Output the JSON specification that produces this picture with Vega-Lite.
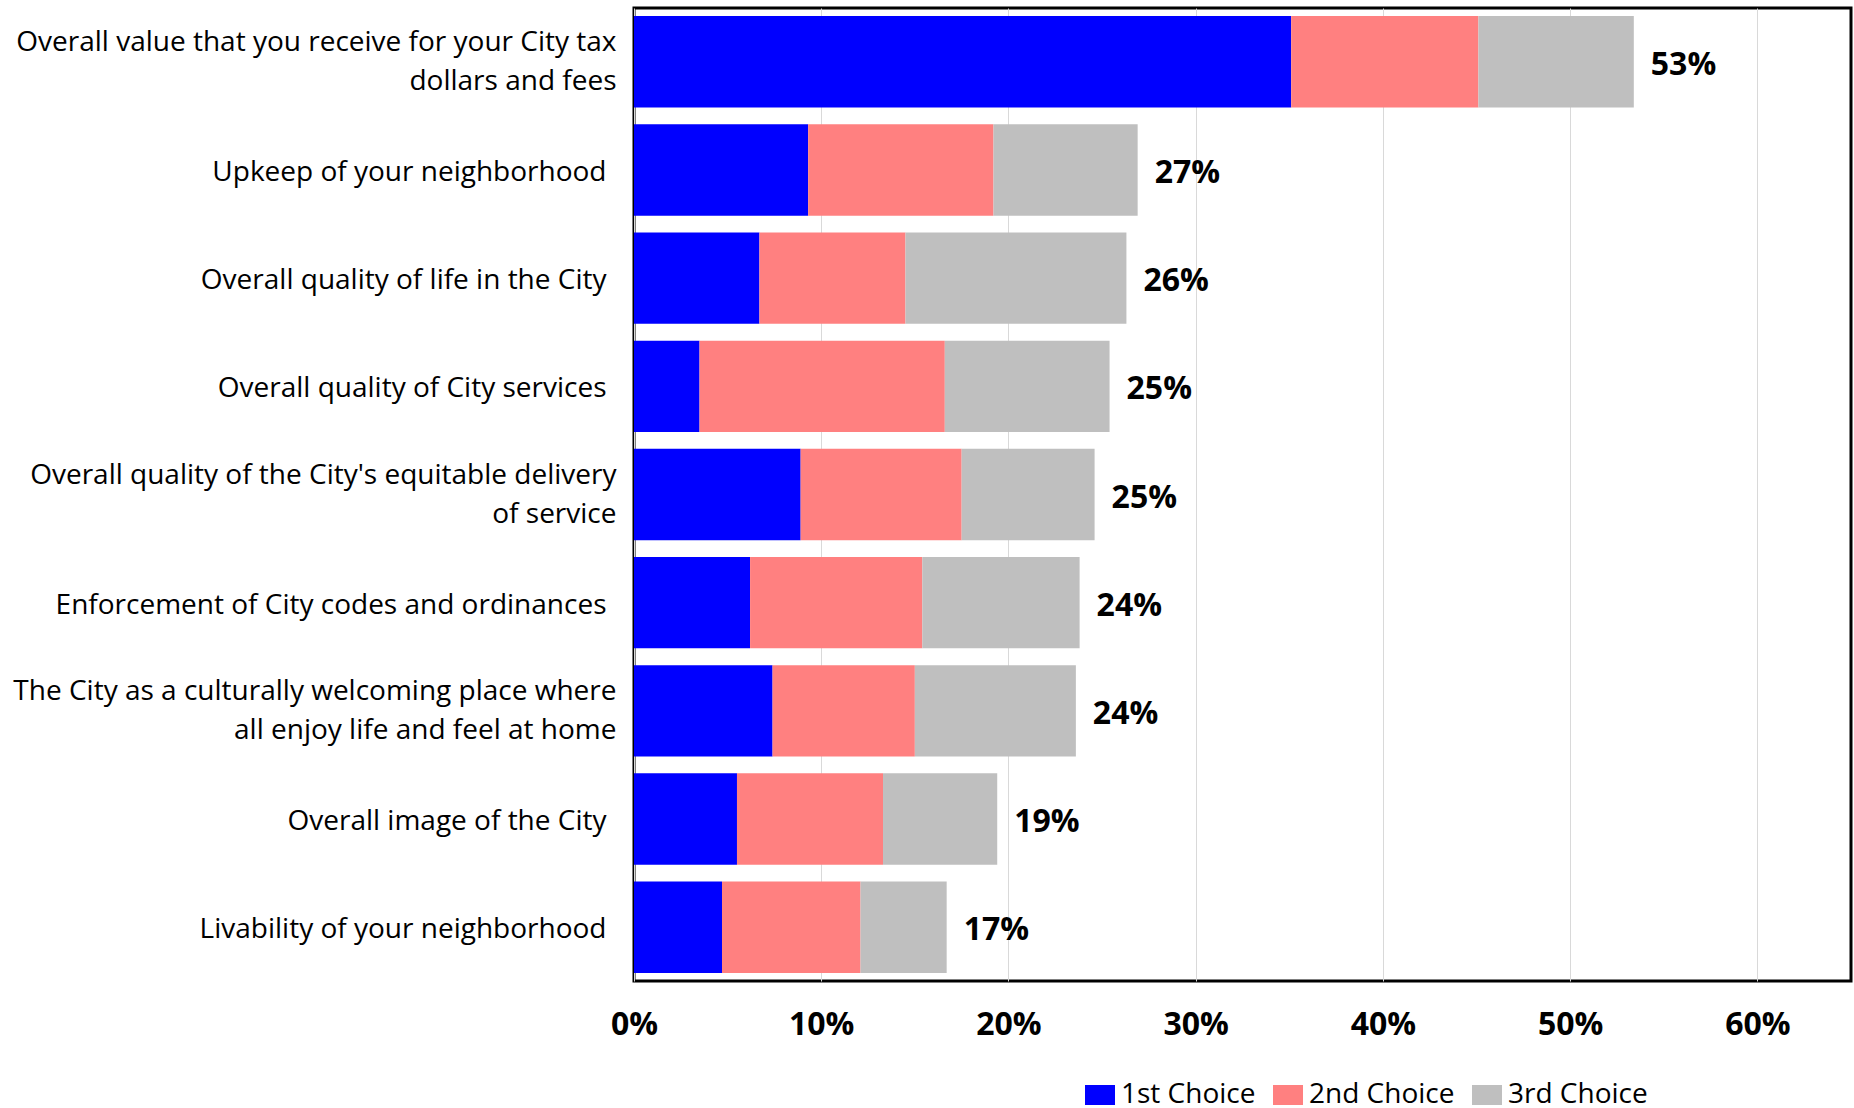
{
  "$schema": "https://vega.github.io/schema/vega-lite/v6.json",
  "autosize": {"type": "none"},
  "padding": {"left": 634, "top": 8, "right": 3, "bottom": 127},
  "width": 1217,
  "height": 973,
  "background": "white",
  "config": {
    "font": "Open Sans",
    "view": {"stroke": "black", "strokeWidth": 3},
    "axis": {"labelFont": "Open Sans", "labelColor": "black"}
  },
  "data": {
    "values": [
      {"category": "Overall value that you receive for your City tax dollars and fees", "choice": "1st Choice", "value": 0.351},
      {"category": "Overall value that you receive for your City tax dollars and fees", "choice": "2nd Choice", "value": 0.100},
      {"category": "Overall value that you receive for your City tax dollars and fees", "choice": "3rd Choice", "value": 0.083},
      {"category": "Upkeep of your neighborhood", "choice": "1st Choice", "value": 0.093},
      {"category": "Upkeep of your neighborhood", "choice": "2nd Choice", "value": 0.099},
      {"category": "Upkeep of your neighborhood", "choice": "3rd Choice", "value": 0.077},
      {"category": "Overall quality of life in the City", "choice": "1st Choice", "value": 0.067},
      {"category": "Overall quality of life in the City", "choice": "2nd Choice", "value": 0.078},
      {"category": "Overall quality of life in the City", "choice": "3rd Choice", "value": 0.118},
      {"category": "Overall quality of City services", "choice": "1st Choice", "value": 0.035},
      {"category": "Overall quality of City services", "choice": "2nd Choice", "value": 0.131},
      {"category": "Overall quality of City services", "choice": "3rd Choice", "value": 0.088},
      {"category": "Overall quality of the City's equitable delivery of service", "choice": "1st Choice", "value": 0.089},
      {"category": "Overall quality of the City's equitable delivery of service", "choice": "2nd Choice", "value": 0.086},
      {"category": "Overall quality of the City's equitable delivery of service", "choice": "3rd Choice", "value": 0.071},
      {"category": "Enforcement of City codes and ordinances", "choice": "1st Choice", "value": 0.062},
      {"category": "Enforcement of City codes and ordinances", "choice": "2nd Choice", "value": 0.092},
      {"category": "Enforcement of City codes and ordinances", "choice": "3rd Choice", "value": 0.084},
      {"category": "The City as a culturally welcoming place where all enjoy life and feel at home", "choice": "1st Choice", "value": 0.074},
      {"category": "The City as a culturally welcoming place where all enjoy life and feel at home", "choice": "2nd Choice", "value": 0.076},
      {"category": "The City as a culturally welcoming place where all enjoy life and feel at home", "choice": "3rd Choice", "value": 0.086},
      {"category": "Overall image of the City", "choice": "1st Choice", "value": 0.055},
      {"category": "Overall image of the City", "choice": "2nd Choice", "value": 0.078},
      {"category": "Overall image of the City", "choice": "3rd Choice", "value": 0.061},
      {"category": "Livability of your neighborhood", "choice": "1st Choice", "value": 0.047},
      {"category": "Livability of your neighborhood", "choice": "2nd Choice", "value": 0.074},
      {"category": "Livability of your neighborhood", "choice": "3rd Choice", "value": 0.046}
    ]
  },
  "encoding": {
    "y": {
      "field": "category",
      "type": "nominal",
      "sort": null,
      "scale": {"paddingInner": 0.155, "paddingOuter": 0.075},
      "axis": {
        "title": null,
        "domain": false,
        "ticks": false,
        "grid": false,
        "labelFontSize": 28,
        "labelLimit": 800,
        "labelPadding": {"condition": {"test": "length(datum.label) > 45", "value": 18}, "value": 28},
        "labelOffset": {"condition": {"test": "length(datum.label) > 45", "value": -19}, "value": 3},
        "labelLineHeight": 39,
        "labelExpr": "datum.label == 'Overall value that you receive for your City tax dollars and fees' ? ['Overall value that you receive for your City tax', 'dollars and fees'] : datum.label == \"Overall quality of the City's equitable delivery of service\" ? [\"Overall quality of the City's equitable delivery\", 'of service'] : datum.label == 'The City as a culturally welcoming place where all enjoy life and feel at home' ? ['The City as a culturally welcoming place where', 'all enjoy life and feel at home'] : datum.label"
      }
    }
  },
  "layer": [
    {
      "mark": {"type": "bar"},
      "encoding": {
        "x": {
          "field": "value",
          "type": "quantitative",
          "stack": "zero",
          "scale": {"domain": [0, 0.65], "nice": false},
          "axis": {
            "title": null,
            "format": ".0%",
            "values": [0, 0.1, 0.2, 0.3, 0.4, 0.5, 0.6],
            "domain": false,
            "ticks": false,
            "grid": true,
            "gridColor": "#d9d9d9",
            "gridWidth": 1,
            "labelFontSize": 32,
            "labelFontWeight": "bold",
            "labelPadding": 28,
            "labelFlush": false
          }
        },
        "color": {
          "field": "choice",
          "type": "nominal",
          "scale": {"domain": ["1st Choice", "2nd Choice", "3rd Choice"], "range": ["#0000FF", "#FF8080", "#BFBFBF"]},
          "legend": {
            "title": null,
            "orient": "none",
            "direction": "horizontal",
            "legendX": 452,
            "legendY": 1073,
            "symbolType": "M-1.5,-1H1.5V1H-1.5Z",
            "symbolSize": 400,
            "symbolStrokeWidth": 0,
            "symbolOpacity": 1,
            "labelFontSize": 28,
            "labelFont": "Open Sans",
            "labelColor": "black",
            "labelOffset": 7,
            "columnPadding": 17
          }
        },
        "order": {"field": "choice", "sort": "ascending"}
      }
    },
    {
      "mark": {"type": "text", "align": "left", "baseline": "middle", "dx": 17, "dy": 3, "fontSize": 32, "fontWeight": "bold", "font": "Open Sans", "color": "black"},
      "encoding": {
        "x": {"aggregate": "sum", "field": "value", "type": "quantitative"},
        "text": {"aggregate": "sum", "field": "value", "type": "quantitative", "format": ".0%"}
      }
    }
  ]
}
